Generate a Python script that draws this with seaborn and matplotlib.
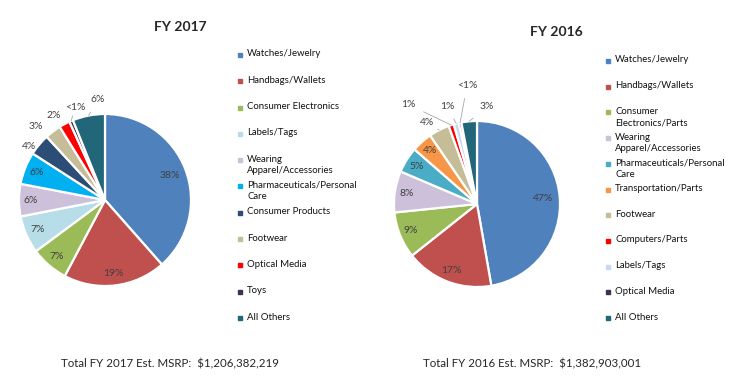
import numpy as np
import matplotlib.pyplot as plt
import seaborn as sns
from matplotlib.patches import Rectangle

sns.set_theme(style="white")
plt.rcParams['font.family'] = ['Lato', 'DejaVu Sans']

# FY 2017
cats_2017 = ['Watches/Jewelry', 'Handbags/Wallets', 'Consumer Electronics', 'Labels/Tags',
             'Wearing\nApparel/Accessories', 'Pharmaceuticals/Personal\nCare', 'Consumer Products',
             'Footwear', 'Optical Media', 'Toys', 'All Others']
vals_2017 = [38, 19, 7, 7, 6, 6, 4, 3, 2, 0.7, 6]
pct_2017 = ['38%', '19%', '7%', '7%', '6%', '6%', '4%', '3%', '2%', '<1%', '6%']
colors_2017 = ['#4F81BD', '#C0504D', '#9BBB59', '#B7DEE8', '#CCC0DA', '#00B0F0', '#2C4D75',
               '#C4BD97', '#FF0000', '#403152', '#22667A']

# FY 2016
cats_2016 = ['Watches/Jewelry', 'Handbags/Wallets', 'Consumer\nElectronics/Parts',
             'Wearing\nApparel/Accessories', 'Pharmaceuticals/Personal\nCare', 'Transportation/Parts',
             'Footwear', 'Computers/Parts', 'Labels/Tags', 'Optical Media', 'All Others']
vals_2016 = [47, 17, 9, 8, 5, 4, 4, 1, 1, 0.5, 3]
pct_2016 = ['47%', '17%', '9%', '8%', '5%', '4%', '4%', '1%', '1%', '<1%', '3%']
colors_2016 = ['#4F81BD', '#C0504D', '#9BBB59', '#CCC0DA', '#4BACC6', '#F79646', '#C4BD97',
               '#FF0000', '#C6D9F1', '#403152', '#22667A']

# outside label placement (pie-radius units) and whether a leader line is drawn
out_2017 = {6: ((-0.88, 0.62), False), 7: ((-0.80, 0.85), False), 8: ((-0.60, 0.98), False),
            9: ((-0.35, 1.07), True), 10: ((-0.09, 1.17), True)}
out_2016 = {6: ((-0.60, 0.98), True), 7: ((-0.83, 1.20), True), 8: ((-0.36, 1.18), True),
            9: ((-0.12, 1.43), True), 10: ((0.12, 1.17), True)}

W, H = 738, 378
fig = plt.figure(figsize=(W / 100, H / 100), dpi=100)


def fx(px):
    return px / W


def fy(py):
    return 1 - py / H


def draw_pie(cx, cy, r, vals, colors, pcts, outside):
    ax = fig.add_axes([fx(cx - r), fy(cy + r), 2 * r / W, 2 * r / H])
    wedges, _ = ax.pie(vals, colors=colors, startangle=90, counterclock=False,
                       wedgeprops=dict(edgecolor='white', linewidth=1.6))
    ax.set_xlim(-1, 1)
    ax.set_ylim(-1, 1)
    for i, w in enumerate(wedges):
        th = np.deg2rad((w.theta1 + w.theta2) / 2)
        if i in outside:
            (tx, ty), leader = outside[i]
            if leader:
                ax.annotate(pcts[i], xy=(np.cos(th), np.sin(th)), xytext=(tx, ty),
                            ha='center', va='center', fontsize=7.5, color='#404040',
                            arrowprops=dict(arrowstyle='-', color='#A6A6A6', lw=0.6,
                                            shrinkA=4, shrinkB=0),
                            annotation_clip=False)
            else:
                ax.text(tx, ty, pcts[i], ha='center', va='center', fontsize=7.5,
                        color='#404040', clip_on=False)
        else:
            d = 0.8 if vals[i] > 30 else 0.86
            ax.text(d * np.cos(th), d * np.sin(th), pcts[i], ha='center', va='center',
                    fontsize=7.5, color='#404040')


def draw_legend(x, y0, pitch, cats, colors):
    for i, (c, col) in enumerate(zip(cats, colors)):
        y = y0 + i * pitch
        fig.add_artist(Rectangle((fx(x - 2), fy(y + 2)), 4 / W, 4 / H, color=col,
                                 transform=fig.transFigure))
        fig.text(fx(x + 7), fy(y - 5.5), c, ha='left', va='top', fontsize=6.9,
                 color='#111111', linespacing=1.35)


draw_pie(105, 200, 86, vals_2017, colors_2017, pct_2017, out_2017)
draw_pie(477, 204, 83, vals_2016, colors_2016, pct_2016, out_2016)

draw_legend(240, 55, 26.3, cats_2017, colors_2017)
draw_legend(608, 61, 25.7, cats_2016, colors_2016)

fig.text(fx(180), fy(27), 'FY 2017', ha='center', va='center', fontsize=10, weight='bold')
fig.text(fx(556), fy(32), 'FY 2016', ha='center', va='center', fontsize=10, weight='bold')
fig.text(fx(170), fy(364), 'Total FY 2017 Est. MSRP:  $1,206,382,219', ha='center', va='center',
         fontsize=8.3)
fig.text(fx(532), fy(364), 'Total FY 2016 Est. MSRP:  $1,382,903,001', ha='center', va='center',
         fontsize=8.3)

fig.savefig('out.png', dpi=100)
